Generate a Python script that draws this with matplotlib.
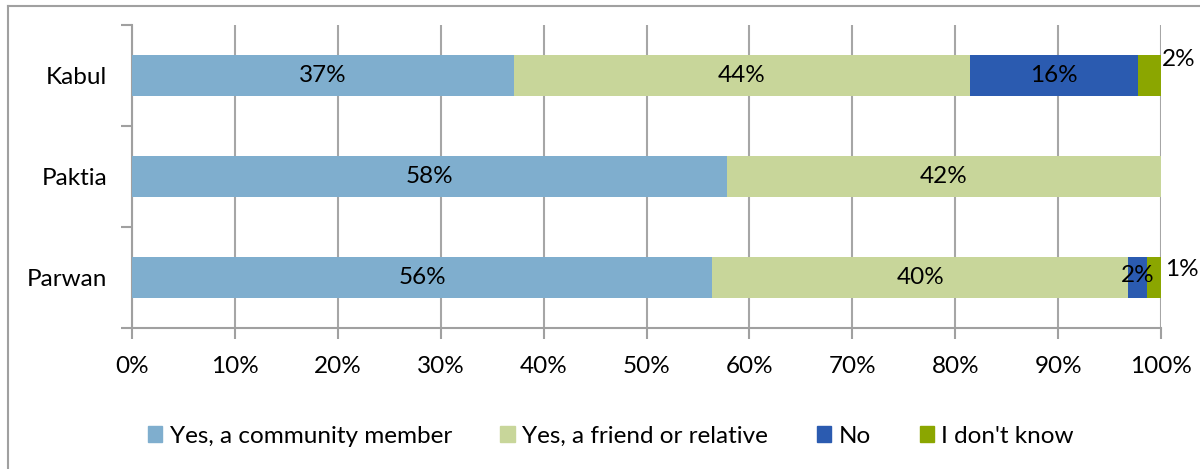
import numpy as np
import matplotlib.pyplot as plt
from matplotlib.lines import Line2D

plt.rcParams['font.family'] = ['Lato', 'DejaVu Sans']

provinces = ["Kabul", "Paktia", "Parwan"]
series = ["Yes, a community member", "Yes, a friend or relative", "No", "I don't know"]
community = [37.1, 57.8, 56.4]
friend = [44.3, 42.2, 40.4]
no = [16.4, 0.0, 1.8]
dont_know = [2.2, 0.0, 1.4]
colors = ["#7FAECE", "#C8D69A", "#2B5BB0", "#8BA600"]

values = [community, friend, no, dont_know]
FS = 17.5

fig = plt.figure(figsize=(12, 4.69), dpi=100)
ax = fig.add_axes([0.11, 0.3006, 0.8575, 0.6461])

y = np.arange(len(provinces))
left = np.zeros(len(provinces))
for vals, col, name in zip(values, colors, series):
    ax.barh(y, vals, left=left, height=0.4, color=col, label=name, zorder=3)
    left = left + np.array(vals)

# labels in the big segments
for si in range(2):
    for i, v in enumerate(values[si]):
        if v > 0:
            x = sum(values[k][i] for k in range(si)) + v / 2
            ax.text(x, y[i], f"{round(v)}%", ha='center', va='center', fontsize=FS, zorder=4)
# Kabul "No"
x = community[0] + friend[0] + no[0] / 2
ax.text(x, y[0], f"{round(no[0])}%", ha='center', va='center', fontsize=FS, zorder=4)
# Kabul "I don't know" outside
ax.text(100.1, y[0] - 0.16, f"{round(dont_know[0])}%", ha='left', va='center', fontsize=FS, zorder=4)
# Parwan small ones
x = community[2] + friend[2] + no[2] / 2
ax.text(x, y[2] - 0.02, f"{round(no[2])}%", ha='center', va='center', fontsize=FS, zorder=4)
ax.text(100.4, y[2] - 0.08, f"{round(dont_know[2])}%", ha='left', va='center', fontsize=FS, zorder=4)

ax.set_xlim(0, 100)
ax.set_ylim(2.5, -0.5)
ax.set_xticks(np.arange(0, 101, 10))
ax.set_xticklabels([f"{t}%" for t in range(0, 101, 10)], fontsize=FS)
ax.set_yticks(y)
ax.set_yticklabels(provinces, fontsize=FS)
ax.set_yticks([-0.5, 0.5, 1.5, 2.5], minor=True)
ax.tick_params(axis='y', which='major', length=0, pad=18)
ax.tick_params(axis='y', which='minor', length=8, width=1.5, color='#A0A0A0')
ax.tick_params(axis='x', length=8, width=1.5, color='#A0A0A0', pad=12)
ax.grid(axis='x', color='#A6A6A6', linewidth=1.5, zorder=0)
for s in ['top', 'right']:
    ax.spines[s].set_visible(False)
for s in ['left', 'bottom']:
    ax.spines[s].set_color('#A0A0A0')
    ax.spines[s].set_linewidth(1.5)

handles = [plt.Rectangle((0, 0), 1, 1, color=c) for c in colors]
fig.legend(handles, series, loc='center', bbox_to_anchor=(0.509, 0.07), ncol=4,
           frameon=False, fontsize=FS, handlelength=0.6, handleheight=0.6,
           columnspacing=2.0, handletextpad=0.3)

# outer chart frame
fig.add_artist(Line2D([8 / 1200, 8 / 1200], [0, 1 - 6 / 469], color='#A0A0A0', lw=1.5))
fig.add_artist(Line2D([8 / 1200, 1], [1 - 6 / 469, 1 - 6 / 469], color='#A0A0A0', lw=1.5))

fig.savefig("out.png", dpi=100)
